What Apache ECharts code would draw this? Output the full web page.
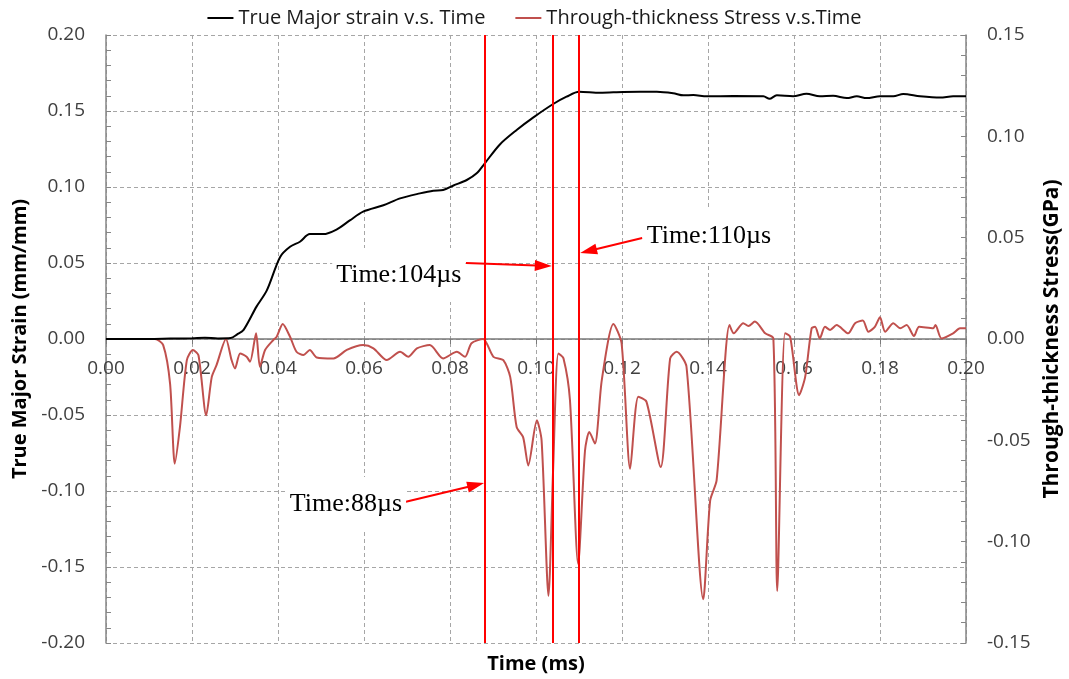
<!DOCTYPE html>
<html>
<head>
<meta charset="utf-8">
<script src="https://cdn.jsdelivr.net/npm/echarts@6/dist/echarts.min.js"></script>
<style>
html,body{margin:0;padding:0;background:#fff;}
#chart{width:1069px;height:679px;}
</style>
</head>
<body>
<div id="chart"></div>
<script>
// ---- data (time in ms) ----
const strainTime = [0, 0.010, 0.015, 0.020, 0.023, 0.026, 0.029, 0.0305, 0.032, 0.035, 0.0374, 0.0405, 0.0428, 0.0451, 0.0474, 0.0505, 0.0536, 0.0567, 0.0598, 0.0645, 0.0684, 0.073, 0.0761, 0.0784, 0.0808, 0.0839, 0.0862, 0.0881, 0.0916, 0.0955, 0.0994, 0.104, 0.1071, 0.110, 0.1149, 0.1203, 0.1281, 0.1319, 0.1343, 0.1366, 0.1397, 0.1459, 0.1529, 0.1543, 0.156, 0.1598, 0.1629, 0.166, 0.1691, 0.1723, 0.1746, 0.1769, 0.18, 0.1831, 0.1854, 0.1893, 0.194, 0.197, 0.2];
const strainValues = [0, 0, 0.0003, 0.0005, 0.0008, 0.0004, 0.0006, 0.003, 0.006, 0.0213, 0.032, 0.054, 0.0607, 0.064, 0.069, 0.069, 0.072, 0.078, 0.0838, 0.088, 0.0925, 0.0958, 0.0976, 0.098, 0.101, 0.1046, 0.109, 0.1156, 0.128, 0.1375, 0.1458, 0.1546, 0.1594, 0.1627, 0.162, 0.1625, 0.1627, 0.1617, 0.1603, 0.1605, 0.1597, 0.1598, 0.1597, 0.158, 0.1603, 0.1597, 0.1614, 0.1597, 0.160, 0.1585, 0.1597, 0.1585, 0.1597, 0.1597, 0.1612, 0.1597, 0.1588, 0.1597, 0.1597];

const stressTime = [0, 0.0114, 0.0133, 0.0149, 0.016, 0.0172, 0.0188, 0.0202, 0.0215, 0.0233, 0.0246, 0.0257, 0.0279, 0.0292, 0.030, 0.0312, 0.0327, 0.0335, 0.0349, 0.0358, 0.037, 0.0389, 0.0397, 0.0411, 0.0428, 0.0443, 0.0459, 0.0474, 0.049, 0.0529, 0.056, 0.0598, 0.0622, 0.0653, 0.0684, 0.0703, 0.0723, 0.0753, 0.0784, 0.0816, 0.0835, 0.085, 0.0877, 0.0901, 0.0924, 0.094, 0.0955, 0.097, 0.0982, 0.1002, 0.1013, 0.1029, 0.104, 0.1052, 0.1064, 0.1079, 0.1098, 0.1114, 0.1124, 0.1137, 0.1153, 0.118, 0.1199, 0.1219, 0.1238, 0.1257, 0.129, 0.1312, 0.1327, 0.135, 0.1389, 0.1405, 0.142, 0.145, 0.146, 0.1482, 0.1494, 0.1509, 0.1533, 0.1552, 0.1561, 0.1579, 0.1591, 0.1612, 0.1626, 0.1641, 0.1649, 0.166, 0.1672, 0.1684, 0.1699, 0.1726, 0.1742, 0.176, 0.1773, 0.1788, 0.18, 0.1812, 0.1831, 0.1847, 0.1862, 0.1879, 0.1891, 0.1924, 0.1929, 0.1943, 0.197, 0.1986, 0.2];
const stressValues = [0, 0, -0.003, -0.022, -0.0615, -0.0434, -0.0104, -0.0054, -0.008, -0.0376, -0.0187, -0.0129, 0, -0.0104, -0.0145, -0.0071, -0.0088, -0.0112, 0.0028, -0.0137, -0.0054, -0.0005, 0.0011, 0.0074, 0.0011, -0.0063, -0.0079, -0.0054, -0.0091, -0.0096, -0.0054, -0.003, -0.0046, -0.0104, -0.0063, -0.0088, -0.0046, -0.003, -0.0096, -0.0063, -0.0088, -0.0021, 0, -0.0088, -0.0104, -0.0187, -0.0434, -0.0484, -0.0624, -0.0401, -0.050, -0.1267, -0.0632, -0.0071, -0.0096, -0.0302, -0.111, -0.055, -0.0459, -0.0516, -0.0203, 0.0074, -0.0021, -0.064, -0.0285, -0.031, -0.0632, -0.0096, -0.0063, -0.0137, -0.1284, -0.0797, -0.0698, 0.0069, 0.0028, 0.0078, 0.0064, 0.0086, 0.0028, 0.0003, -0.1243, 0.0028, 0.0011, -0.0277, -0.0187, 0.0053, 0.006, 0.0003, 0.006, 0.0045, 0.0069, 0.0028, 0.0078, 0.0091, 0.0036, 0.006, 0.0107, 0.0036, 0.0078, 0.0053, 0.0069, 0.0015, 0.006, 0.0053, 0.0069, 0.0003, 0.0028, 0.0053, 0.0053];

const markerTimes = [0.088, 0.104, 0.110];
const markerLabels = ['Time:88\u00b5s', 'Time:104\u00b5s', 'Time:110\u00b5s'];

const seriesNames = ['True Major strain v.s. Time', 'Through-thickness Stress v.s.Time'];
const xTickLabels = ['0.00','0.02','0.04','0.06','0.08','0.10','0.12','0.14','0.16','0.18','0.20'];

// annotation anchors in data coordinates (time, strain); arrow ends are arrowhead centres
const annoText = [[0.0558, -0.1085], [0.0681, 0.0421], [0.1402, 0.0678]];
const annoFrom = [[0.0695, -0.1072], [0.0837, 0.0500], [0.1247, 0.0664]];
const annoTo   = [[0.0860, -0.0961], [0.1017, 0.0482], [0.1122, 0.0579]];

const zip = (a, b) => a.map((v, i) => [v, b[i]]);

const chart = echarts.init(document.getElementById('chart'), null, {renderer: 'canvas'});

const labelFont = '"Open Sans", Lato, sans-serif';
const gridColor = '#a6a6a6';
const axisColor = '#868686';
const GRID_TOP = 35, GRID_BOTTOM = 36, PLOT_H = 679 - GRID_TOP - GRID_BOTTOM;

const option = {
  animation: false,
  backgroundColor: '#fff',
  legend: {
    top: 3,
    left: 'center',
    icon: 'rect',
    itemWidth: 26,
    itemHeight: 2,
    itemGap: 30,
    textStyle: {fontFamily: labelFont, fontSize: 20, color: '#1a1a1a'},
    data: seriesNames
  },
  grid: {left: 106, right: 103, top: GRID_TOP, bottom: GRID_BOTTOM, containLabel: false, outerBoundsMode: 'none'},
  xAxis: [
    {
      type: 'value', min: 0, max: 0.2, interval: 0.02, position: 'bottom',
      offset: -PLOT_H / 2,
      axisLine: {show: true, onZero: false, lineStyle: {color: '#7a7a7a', width: 1.5}},
      axisTick: {show: true, length: 5, lineStyle: {color: '#7a7a7a'}},
      axisLabel: {
        color: '#404040', fontFamily: labelFont, fontSize: 19, margin: 20,
        formatter: (v) => xTickLabels[Math.round(v / 0.02)]
      },
      splitLine: {show: true, lineStyle: {type: [4, 3], color: gridColor, width: 1}}
    },
    {
      type: 'value', min: 0, max: 0.2, position: 'bottom',
      axisLine: {show: false, onZero: false}, axisTick: {show: false}, axisLabel: {show: false},
      splitLine: {show: false},
      name: 'Time (ms)', nameLocation: 'middle', nameGap: 11,
      nameTextStyle: {fontFamily: labelFont, fontSize: 20, fontWeight: 'bold', color: '#000'}
    }
  ],
  yAxis: [
    {
      type: 'value', min: -0.2, max: 0.2, interval: 0.05, position: 'left',
      axisLine: {show: true, onZero: false, lineStyle: {color: axisColor, width: 1.5}},
      axisTick: {show: true, inside: true, length: 5, lineStyle: {color: axisColor}},
      minorTick: {show: true, splitNumber: 5, length: 5, lineStyle: {color: axisColor}},
      axisLabel: {color: '#404040', fontFamily: labelFont, fontSize: 19, margin: 21, formatter: (v) => v.toFixed(2)},
      splitLine: {show: true, lineStyle: {type: [4, 3], color: gridColor, width: 1}},
      name: 'True Major Strain (mm/mm)', nameLocation: 'middle', nameGap: 73, nameRotate: 90,
      nameTextStyle: {fontFamily: labelFont, fontSize: 20, fontWeight: 'bold', color: '#000'}
    },
    {
      type: 'value', min: -0.15, max: 0.15, interval: 0.05, position: 'right',
      axisLine: {show: true, onZero: false, lineStyle: {color: axisColor, width: 1.5}},
      axisTick: {show: true, inside: true, length: 5, lineStyle: {color: axisColor}},
      minorTick: {show: true, splitNumber: 5, length: 5, lineStyle: {color: axisColor}},
      axisLabel: {color: '#404040', fontFamily: labelFont, fontSize: 19, margin: 21, formatter: (v) => v.toFixed(2)},
      splitLine: {show: false},
      name: 'Through-thickness Stress(GPa)', nameLocation: 'middle', nameGap: 72, nameRotate: 90,
      nameTextStyle: {fontFamily: labelFont, fontSize: 21, fontWeight: 'bold', color: '#000'}
    }
  ],
  series: [
    {
      name: seriesNames[0], type: 'line', xAxisIndex: 0, yAxisIndex: 0,
      data: zip(strainTime, strainValues),
      symbol: 'none', smooth: 0.3,
      lineStyle: {color: '#000', width: 2},
      itemStyle: {color: '#000'},
      z: 3,
      markLine: {
        silent: true, animation: false, precision: 6,
        symbol: ['none', 'triangle'], symbolSize: [11, 17],
        label: {show: false},
        lineStyle: {color: '#ff0000', width: 2, type: 'solid'},
        emphasis: {disabled: true},
        data: annoFrom.map((f, i) => [{coord: f}, {coord: annoTo[i]}])
      },
      markPoint: {
        silent: true, animation: false, precision: 6,
        symbol: 'circle', symbolSize: 1,
        itemStyle: {color: 'rgba(0,0,0,0)'},
        label: {
          show: true, position: 'inside', formatter: '{b}',
          fontFamily: '"Liberation Serif", "Times New Roman", serif', fontSize: 26, color: '#000',
          backgroundColor: '#fff', padding: [14, 4, 14, 4]
        },
        data: annoText.map((c, i) => ({name: markerLabels[i], coord: c}))
      }
    },
    {
      name: seriesNames[1], type: 'line', xAxisIndex: 0, yAxisIndex: 1,
      data: zip(stressTime, stressValues),
      symbol: 'none', smooth: 0.25,
      lineStyle: {color: '#c0504d', width: 2},
      itemStyle: {color: '#c0504d'},
      z: 2,
      markLine: {
        silent: true, animation: false, precision: 6,
        symbol: ['none', 'none'],
        label: {show: false},
        lineStyle: {color: '#ff0000', width: 2, type: 'solid'},
        emphasis: {disabled: true},
        data: markerTimes.map(t => ({xAxis: t}))
      }
    }
  ]
};

chart.setOption(option);
</script>
</body>
</html>
